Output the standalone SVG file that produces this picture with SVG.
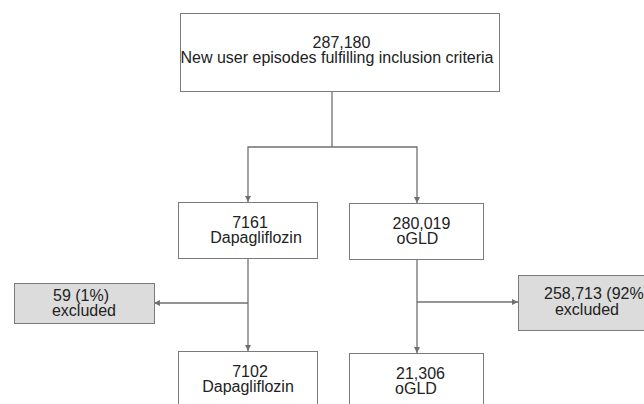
<svg xmlns="http://www.w3.org/2000/svg" width="644" height="404" viewBox="0 0 644 404">
<defs>
<marker id="arr" viewBox="0 0 10 10" refX="10" refY="5" markerWidth="7" markerHeight="6" markerUnits="userSpaceOnUse" orient="auto">
<path d="M0,0 L10,5 L0,10 z" fill="#707070"/>
</marker>
<style>
.box{fill:#ffffff;stroke:#7a7a7a;stroke-width:1}
.exc{fill:#dcdcdc;stroke:#7a7a7a;stroke-width:1}
.t{font-family:"Liberation Sans",Arial,sans-serif;font-size:16px;fill:#222;text-anchor:middle}
.ln{fill:none;stroke:#707070;stroke-width:1.3}
.ar{fill:none;stroke:#707070;stroke-width:1.3;marker-end:url(#arr)}
</style>
</defs>
<rect width="644" height="404" fill="#ffffff"/>
<g id="connectors">
<path class="ln" d="M332,91 V147"/>
<path class="ar" d="M332,147 H248 V202"/>
<path class="ar" d="M332,147 H417 V203"/>
<path class="ar" d="M248,258 V351"/>
<path class="ar" d="M248,303 H154"/>
<path class="ar" d="M417,259 V353"/>
<path class="ar" d="M417,302 H518"/>
</g>
<g id="top">
<rect class="box" x="180.5" y="13.5" width="319" height="78"/>
<text class="t" x="341.5" y="47.5">287,180</text>
<text class="t" x="337" y="63">New user episodes fulfilling inclusion criteria</text>
</g>
<g id="dapa1">
<rect class="box" x="178.5" y="202.5" width="139" height="56"/>
<text class="t" x="250" y="228">7161</text>
<text class="t" x="256" y="243">Dapagliflozin</text>
</g>
<g id="ogld1">
<rect class="box" x="349.5" y="203.5" width="134" height="56"/>
<text class="t" x="421.5" y="228.5">280,019</text>
<text class="t" x="417.5" y="243.5">oGLD</text>
</g>
<g id="exc1">
<rect class="exc" x="14.5" y="283.5" width="140" height="40"/>
<text class="t" x="81" y="301">59 (1%)</text>
<text class="t" x="84" y="316">excluded</text>
</g>
<g id="exc2">
<rect class="exc" x="518.5" y="275.5" width="138" height="55"/>
<text class="t" x="596.5" y="299">258,713 (92%)</text>
<text class="t" x="587" y="314.5">excluded</text>
</g>
<g id="dapa2">
<rect class="box" x="178.5" y="351.5" width="139" height="60"/>
<text class="t" x="250" y="376.5">7102</text>
<text class="t" x="248" y="391.5">Dapagliflozin</text>
</g>
<g id="ogld2">
<rect class="box" x="349.5" y="353.5" width="134" height="60"/>
<text class="t" x="420.5" y="378.5">21,306</text>
<text class="t" x="416" y="393.5">oGLD</text>
</g>
</svg>
